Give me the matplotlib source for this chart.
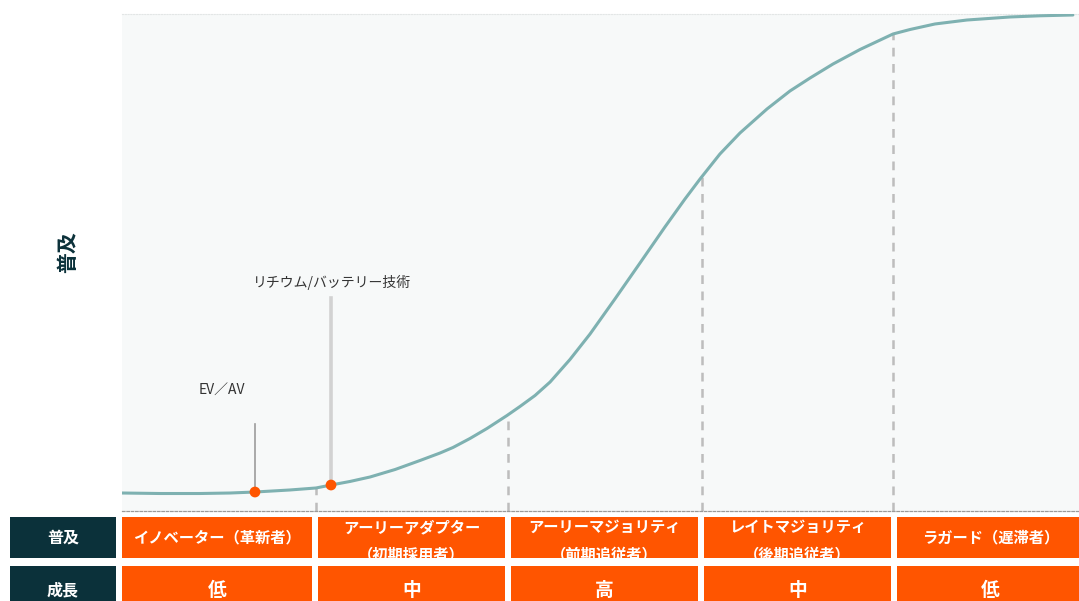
import numpy as np
import matplotlib
matplotlib.use("Agg")
import matplotlib.pyplot as plt
from matplotlib.patches import Rectangle

plt.rcParams['font.family'] = ['Noto Sans CJK JP', 'DejaVu Sans']

# ---- data ----
# S-curve of adoption (x in stage units, y in % adoption)
curve_x = [0.0, 0.197, 0.404, 0.560, 0.689, 0.870, 1.005, 1.083, 1.181, 1.285,
           1.415, 1.544, 1.648, 1.715, 1.803, 1.891, 1.995, 2.062, 2.140, 2.218,
           2.321, 2.425, 2.554, 2.684, 2.813, 2.917, 2.995, 3.098, 3.202, 3.342,
           3.461, 3.565, 3.684, 3.824, 3.995, 4.083, 4.212, 4.378, 4.601, 4.756,
           4.927]
curve_y = [3.62, 3.52, 3.52, 3.62, 3.82, 4.23, 4.63, 5.23, 5.94, 6.84,
           8.35, 10.16, 11.67, 12.78, 14.59, 16.60, 19.22, 21.03, 23.24, 25.95,
           30.48, 35.61, 42.66, 49.90, 57.14, 62.78, 66.80, 71.83, 76.06, 80.89,
           84.51, 87.12, 89.94, 92.86, 95.98, 96.88, 97.99, 98.79, 99.40, 99.64,
           99.80]

# highlighted technologies on the curve
tech_names = ["EV／AV", "リチウム/バッテリー技術"]
tech_x = [0.689, 1.083]
tech_y = [3.82, 5.23]

# stage boundaries
boundaries = [1.005, 2.0, 3.005, 3.995]

stage_labels = ["イノベーター（革新者）",
                "アーリーアダプター\n（初期採用者）",
                "アーリーマジョリティ\n（前期追従者）",
                "レイトマジョリティ\n（後期追従者）",
                "ラガード（遅滞者）"]
growth_labels = ["低", "中", "高", "中", "低"]
row_titles = ["普及", "成長"]

# ---- styling ----
orange = "#ff5500"
dark = "#0b313a"
curve_col = "#7eb1b1"
bg = "#f7f9f9"

W, H = 1079, 601
fig = plt.figure(figsize=(W / 100, H / 100), dpi=100)

# main chart area
x_per_px = 1 / 193.0
ax = fig.add_axes([122 / W, 90 / H, (W - 122) / W, 497 / H])
ax.set_facecolor(bg)
ax.set_xlim(0, (W - 122) * x_per_px)
ax.set_ylim(0, 100)
ax.set_xticks([])
ax.set_yticks([])
for s in ["left", "right"]:
    ax.spines[s].set_visible(False)
ax.spines["top"].set_color("#e3e6e6")
ax.spines["top"].set_linestyle((0, (1, 1.5)))
ax.spines["bottom"].set_color("#9a9a9a")
ax.spines["bottom"].set_linestyle((0, (2, 1.5)))
ax.spines["bottom"].set_linewidth(0.9)

# dashed stage boundaries up to the curve
for b in boundaries:
    top = np.interp(b, curve_x, curve_y)
    ax.plot([b, b], [0, top], color="#bdbdbd", lw=1.8, ls=(0, (3.5, 3)), zorder=1)

ax.plot(curve_x, curve_y, color=curve_col, lw=2.2, zorder=3,
        solid_capstyle="round", solid_joinstyle="round")

# technology markers with leader lines and labels
line_tops = [17.5, 42.9]
line_cols = ["#9c9c9c", "#d2d2d2"]
line_w = [1.2, 2.6]
label_x = [0.52, 1.09]
label_y = [24.3, 46.0]
for i in range(len(tech_names)):
    ax.plot([tech_x[i], tech_x[i]], [tech_y[i], line_tops[i]],
            color=line_cols[i], lw=line_w[i], zorder=2)
    ax.scatter([tech_x[i]], [tech_y[i]], s=60, color=orange, zorder=4, edgecolor="none")
    ax.text(label_x[i], label_y[i], tech_names[i], ha="center", va="center",
            fontsize=10, color="#333333")

# y label
fig.text(68 / W, 1 - 252 / H, "普及", rotation=90, ha="center", va="center",
         fontsize=15, fontweight="bold", color=dark)

# ---- table below the chart ----
axt = fig.add_axes([0, 0, 1, 90 / H])
axt.set_xlim(-122 * x_per_px, (W - 122) * x_per_px)
axt.set_ylim(0, 90)
axt.axis("off")

rows = [(43, 41), (-6, 41)]   # (bottom, height) for each row
lab_x0, lab_x1 = -112 * x_per_px, -6 * x_per_px
gap = 0.018
for r, (y0, h) in enumerate(rows):
    axt.add_patch(Rectangle((lab_x0, y0), lab_x1 - lab_x0, h, color=dark, lw=0))
    axt.text((lab_x0 + lab_x1) / 2, y0 + h / 2 if r == 0 else 11, row_titles[r],
             ha="center", va="center", color="white", fontsize=11.5, fontweight="bold")
    texts = stage_labels if r == 0 else growth_labels
    for i, t in enumerate(texts):
        x0 = i + (gap if i > 0 else 0.0)
        x1 = i + 1 - gap
        cell = Rectangle((x0, y0), x1 - x0, h, color=orange, lw=0)
        axt.add_patch(cell)
        if r == 0:
            if "\n" in t:
                a, b = t.split("\n")
                axt.text((x0 + x1) / 2, 74, a, ha="center", va="center",
                         color="white", fontsize=11, fontweight="bold")
                t2 = axt.text((x0 + x1) / 2, 47, b, ha="center", va="center",
                              color="white", fontsize=11, fontweight="bold")
                t2.set_clip_path(cell)
            else:
                axt.text((x0 + x1) / 2, 63.5, t, ha="center", va="center",
                         color="white", fontsize=11, fontweight="bold")
        else:
            axt.text((x0 + x1) / 2, 11, t, ha="center", va="center",
                     color="white", fontsize=13.5, fontweight="bold")

fig.savefig("out.png", dpi=100)
